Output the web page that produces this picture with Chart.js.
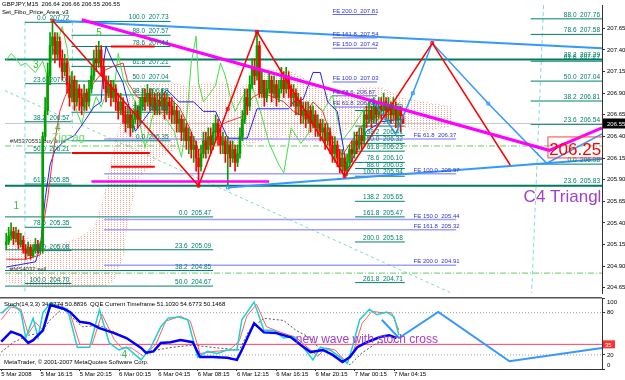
<!DOCTYPE html>
<html>
<head>
<meta charset="utf-8">
<title>GBPJPY M15</title>
<script src="https://cdn.jsdelivr.net/npm/chart.js@4.4.1/dist/chart.umd.min.js"></script>
<style>
  html, body { margin: 0; padding: 0; background: #fff; }
  #wrap { position: relative; width: 625px; height: 380px; overflow: hidden; background: #fff; }
  #mainChart { position: absolute; left: 0; top: 0; }
  #subChart { position: absolute; left: 0; top: 297px; }
</style>
</head>
<body>
<div id="wrap">
  <canvas id="mainChart" width="625" height="298"></canvas>
  <canvas id="subChart" width="625" height="83"></canvas>
</div>
<script>
// x = bar number of M15 candles, bar 0 = 5 Mar 12:15
const timeLabels = ['5 Mar 2008', '5 Mar 16:15', '5 Mar 20:15', '6 Mar 00:15', '6 Mar 04:15', '6 Mar 08:15',
  '6 Mar 12:15', '6 Mar 16:15', '6 Mar 20:15', '7 Mar 00:15', '7 Mar 04:15'];
const timeTickBars = [0, 16, 32, 48, 64, 80, 96, 112, 128, 144, 160];
const priceTicks = [207.65, 207.40, 207.15, 206.90, 206.65, 206.40, 206.15, 205.90, 205.65, 205.40, 205.15, 204.90, 204.65];
const stochTicks = [100, 80, 20, 0];
const stochLevels = [80, 20];
const qqeLevel = 35;

const chartTitle = 'GBPJPY,M15  206.64 206.66 206.55 206.55';
const indicatorName = 'Set_Fibo_Price_Area_v3';
const subTitle = 'Stoch(14,3,3) 34.6774 50.8836  QQE Current Timeframe 51.1030 54.6773 50.1468';
const copyright = 'MetaTrader, \u00a9 2001-2007 MetaQuotes Software Corp.';

// candles (open = previous close)
const firstOpen = 205.15;
const closes = [
  205.18, 205.25, 205.30, 205.22, 205.28, 205.15, 205.20, 205.10, 205.05, 205.12,
  205.02, 205.08, 205.15, 205.10, 205.12, 206.40, 206.70, 207.10, 207.45, 207.55,
  207.35, 207.50, 207.30, 207.15, 207.25, 207.00, 206.85, 207.05, 206.80, 206.95,
  206.85, 206.75, 206.90, 206.80, 206.95, 207.10, 207.30, 207.25, 207.40, 207.20,
  207.05, 206.90, 207.00, 206.85, 206.95, 206.80, 206.70, 206.80, 206.65, 206.55,
  206.65, 206.50, 206.60, 206.70, 206.60, 206.75, 206.85, 206.80, 206.90, 206.75,
  206.85, 206.70, 206.80, 206.75, 206.85, 206.70, 206.80, 206.75, 206.65, 206.70,
  206.55, 206.60, 206.45, 206.50, 206.35, 206.40, 206.25, 206.30, 206.15, 206.05,
  206.20, 206.35, 206.25, 206.40, 206.30, 206.45, 206.55, 206.40, 206.30, 206.35,
  206.20, 206.30, 206.15, 206.25, 206.10, 206.20, 206.40, 206.60, 206.85, 206.75,
  207.00, 207.20, 207.10, 207.45, 206.90, 207.05, 206.85, 206.95, 207.05, 206.90,
  207.00, 206.85, 206.95, 207.05, 206.95, 207.10, 206.95, 206.85, 206.90, 206.75,
  206.80, 206.65, 206.70, 206.60, 206.70, 206.55, 206.65, 206.50, 206.55, 206.45,
  206.50, 206.35, 206.45, 206.30, 206.20, 206.30, 206.15, 206.05, 206.15, 206.00,
  206.10, 206.25, 206.20, 206.35, 206.30, 206.40, 206.35, 206.65, 206.60, 206.70,
  206.60, 206.75, 206.65, 206.75, 206.70, 206.80, 206.70, 206.75, 206.65, 206.75,
  206.60, 206.70, 206.64, 206.55];
const highs = [
  205.28, 205.35, 205.40, 205.35, 205.35, 205.32, 205.28, 205.25, 205.15, 205.18,
  205.15, 205.15, 205.22, 205.20, 205.18, 206.45, 206.85, 207.25, 207.60, 207.74,
  207.60, 207.60, 207.55, 207.40, 207.35, 207.30, 207.10, 207.15, 207.10, 207.05,
  207.00, 206.95, 207.00, 206.95, 207.05, 207.20, 207.40, 207.45, 207.50, 207.45,
  207.30, 207.10, 207.10, 207.05, 207.05, 207.00, 206.90, 206.90, 206.85, 206.75,
  206.75, 206.70, 206.70, 206.80, 206.75, 206.85, 206.95, 206.95, 207.00, 206.95,
  206.95, 206.90, 206.90, 206.90, 206.95, 206.90, 206.90, 206.85, 206.85, 206.80,
  206.75, 206.70, 206.65, 206.60, 206.55, 206.50, 206.45, 206.40, 206.35, 206.25,
  206.30, 206.45, 206.45, 206.50, 206.50, 206.55, 206.65, 206.60, 206.50, 206.45,
  206.40, 206.40, 206.35, 206.35, 206.30, 206.30, 206.50, 206.70, 206.95, 206.95,
  207.10, 207.30, 207.30, 207.61, 207.50, 207.15, 207.05, 207.05, 207.15, 207.10,
  207.10, 207.05, 207.05, 207.20, 207.15, 207.20, 207.15, 207.00, 207.00, 206.95,
  206.90, 206.85, 206.80, 206.80, 206.80, 206.75, 206.75, 206.70, 206.65, 206.60,
  206.60, 206.55, 206.55, 206.50, 206.40, 206.40, 206.35, 206.25, 206.25, 206.20,
  206.20, 206.30, 206.35, 206.45, 206.45, 206.50, 206.50, 206.70, 206.75, 206.80,
  206.75, 206.85, 206.80, 206.85, 206.85, 206.90, 206.85, 206.85, 206.80, 206.85,
  206.80, 206.75, 206.75, 206.66];
const lows = [
  205.10, 205.15, 205.20, 205.15, 205.18, 205.10, 205.12, 205.05, 204.98, 205.02,
  204.98, 205.00, 205.05, 205.05, 205.05, 205.05, 206.35, 206.65, 207.00, 207.35,
  207.25, 207.30, 207.20, 207.05, 207.10, 206.90, 206.75, 206.80, 206.70, 206.75,
  206.70, 206.65, 206.70, 206.70, 206.75, 206.90, 207.05, 207.15, 207.20, 207.10,
  206.95, 206.80, 206.85, 206.75, 206.80, 206.70, 206.60, 206.65, 206.55, 206.45,
  206.50, 206.40, 206.45, 206.55, 206.50, 206.55, 206.70, 206.70, 206.75, 206.70,
  206.70, 206.65, 206.65, 206.65, 206.70, 206.60, 206.65, 206.60, 206.55, 206.55,
  206.45, 206.45, 206.35, 206.35, 206.25, 206.20, 206.15, 206.10, 206.00, 205.83,
  206.00, 206.15, 206.15, 206.20, 206.20, 206.25, 206.35, 206.30, 206.20, 206.20,
  206.10, 205.83, 206.05, 206.10, 206.00, 206.05, 206.15, 206.35, 206.55, 206.65,
  206.70, 206.95, 207.00, 207.05, 206.85, 206.85, 206.75, 206.80, 206.90, 206.80,
  206.85, 206.75, 206.80, 206.90, 206.85, 206.90, 206.85, 206.75, 206.75, 206.65,
  206.65, 206.55, 206.55, 206.50, 206.55, 206.45, 206.50, 206.40, 206.40, 206.35,
  206.35, 206.25, 206.30, 206.20, 206.10, 206.10, 206.05, 205.98, 205.98, 205.94,
  205.95, 206.05, 206.10, 206.15, 206.20, 206.25, 206.25, 206.30, 206.50, 206.55,
  206.50, 206.55, 206.55, 206.60, 206.60, 206.65, 206.60, 206.60, 206.55, 206.60,
  206.50, 206.50, 206.45, 206.55];
const lastPrice = 206.55;

// fibo retracement sets
const fibFarLeftLevels = ['0.0', '23.6', '38.2', '50.0', '61.8', '78.6', '88.0', '100.0'];
const fibFarLeftPrices = [207.72, 207.01, 206.57, 206.21, 205.85, 205.35, 205.08, 204.70];
const fibLeftLevels = ['100.0', '88.0', '78.6', '61.8', '50.0', '38.2', '23.6', '0.0'];
const fibLeftPrices = [207.73, 207.57, 207.44, 207.21, 207.04, 206.88, 206.68, 206.35];
const fibLowLevels = ['0.0', '23.6', '38.2', '50.0'];
const fibLowPrices = [205.47, 205.09, 204.85, 204.67];
const fibRightLevels = ['0.0', '23.6', '38.2', '50.0', '61.8', '78.6', '88.0', '100.0', '138.2', '161.8', '200.0', '261.8'];
const fibRightPrices = [206.70, 206.52, 206.41, 206.32, 206.23, 206.10, 206.03, 205.94, 205.65, 205.47, 205.18, 204.71];
const fibFarRightLevels = ['88.0', '78.6', '61.8', '50.0', '38.2', '23.6', '0.0'];
const fibFarRightPrices = [207.76, 207.58, 207.27, 207.04, 206.81, 206.54, 206.08];
const trendLevels = ['38.2', '23.6'];
const trendPrices = [207.29, 205.83];
// fibo expansion sets
const feUpperLevels = ['200.0', '161.8', '150.0', '100.0', '78.6', '61.8'];
const feUpperPrices = [207.81, 207.54, 207.42, 207.03, 206.87, 206.74];
const feLowerLevels = ['61.8', '100.0', '150.0', '161.8', '200.0'];
const feLowerPrices = [206.37, 205.97, 205.44, 205.32, 204.91];

// order lines and object lines
const buyLimitPrice = 206.29;
const sellPrice = 204.82;
const redLevelPrices = [207.44, 206.21, 206.05];
const magentaLevelPrice = 205.88;
const targetPrice = 206.25;

// zigzag, triangle and projections [bar, price]
const zigzag = [[19, 207.74], [79, 205.83], [103, 207.61], [139, 205.94], [175, 207.48], [207, 206.07]];
const zigzagMarks = [[19, 207.74], [79, 205.83], [91, 206.72], [103, 207.61], [139, 205.94], [158, 206.73], [175, 207.48]];
const triangleTop = [[19, 207.74], [244.7, 207.42]];
const triangleBottom = [[91, 205.81], [244.7, 206.14]];
const magentaTrend = [[31, 207.75], [223, 206.24], [244.7, 206.50]];
const projection = [[150, 206.84], [160, 206.43], [167, 206.90], [175, 207.48], [198, 206.78], [222, 206.09], [244.7, 206.43]];
const projectionMarks = [[91, 205.81], [167, 206.90], [198, 206.78]];

// ichimoku and oscillator drawn on price
const cloudBars = [0, 6, 12, 18, 24, 30, 36, 40, 44, 48, 50, 54, 61, 69, 75, 81, 89, 97, 105, 114, 122, 130, 138, 146, 154, 162, 171, 183];
const cloudTop = [205.32, 205.29, 205.17, 205.12, 205.17, 205.23, 205.34, 205.68, 206.24, 206.69, 206.85, 206.97, 207.02, 207.02,
  206.97, 207.02, 207.02, 206.97, 207.14, 207.19, 207.08, 206.91, 206.85, 206.97, 206.97, 206.85, 206.80, 206.74];
const cloudBottom = [204.72, 204.69, 204.67, 204.65, 204.65, 204.67, 204.67, 204.67, 204.72, 205.01, 205.45, 205.90, 206.13, 206.24,
  206.29, 206.35, 206.29, 206.29, 206.35, 206.41, 206.35, 206.35, 206.46, 206.57, 206.63, 206.52, 206.46, 206.52];
const kijun = [[0, 204.89], [6, 204.92], [12, 204.95], [14, 205.12], [16, 205.68], [18, 206.07], [20, 206.24], [24, 206.35],
  [28, 206.41], [32, 206.57], [36, 206.74], [39, 206.80], [40, 207.25], [41, 207.44], [44, 207.25], [48, 207.02], [53, 206.46],
  [59, 206.69], [66, 206.94], [71, 206.80], [77, 206.80], [81, 206.69], [86, 206.69], [91, 206.38], [99, 206.38], [103, 206.72],
  [116, 206.72], [118, 206.80], [122, 206.83], [126, 207.14], [129, 207.14], [132, 206.80], [136, 206.69], [140, 206.01],
  [144, 206.24], [148, 206.46], [154, 206.57], [162, 206.60]];
const tenkan = [[0, 204.98], [8, 204.98], [14, 205.03], [15, 205.34], [17, 205.68], [18, 205.90], [20, 206.35], [22, 206.69],
  [24, 206.85], [26, 206.97], [29, 206.93], [32, 206.85], [36, 207.02], [40, 207.16], [44, 207.21], [48, 207.25], [50, 207.02],
  [54, 206.85], [59, 206.85], [63, 206.80], [67, 206.85], [71, 206.74], [75, 206.52], [79, 206.24], [83, 206.35], [87, 206.52],
  [91, 206.57], [97, 206.63], [101, 206.85], [105, 206.91], [110, 206.85], [114, 206.80], [118, 206.69], [122, 206.63],
  [126, 206.80], [130, 206.69], [134, 206.35], [138, 206.18], [142, 206.35], [146, 206.52], [152, 206.63], [158, 206.66], [162, 206.66]];
const greenOsc = [[0, 207.28], [2, 207.36], [4, 207.30], [6, 207.22], [8, 207.25], [10, 207.19], [12, 207.14], [15, 207.27],
  [17, 207.08], [19, 207.36], [22, 207.58], [23, 207.67], [25, 207.42], [27, 206.91], [29, 206.69], [31, 206.54], [33, 206.80],
  [35, 206.69], [37, 206.86], [39, 206.74], [42, 206.97], [44, 206.86], [46, 207.36], [48, 207.08], [53, 206.80], [57, 206.27],
  [61, 206.74], [65, 206.63], [69, 206.46], [72, 206.16], [74, 206.57], [76, 207.25], [78, 207.56], [79, 207.02], [81, 206.80],
  [84, 206.91], [86, 206.99], [88, 207.25], [90, 207.10], [92, 206.86], [94, 206.69], [97, 206.86], [101, 206.99], [105, 206.63],
  [108, 206.32], [112, 206.07], [114, 205.98], [116, 206.32], [117, 206.50], [121, 206.32], [124, 206.43], [126, 206.80],
  [130, 206.69], [134, 206.88], [138, 206.35], [142, 206.50], [145, 206.63], [149, 206.80], [154, 206.69], [158, 206.72], [162, 206.80]];

// stochastic / QQE window [bar, value]
const stochMain = [[0, 79], [4, 91], [6, 88], [8, 81], [10, 44], [13, 72], [15, 45], [17, 80], [20, 94], [23, 90], [27, 85], [31, 31],
  [36, 31], [40, 84], [44, 37], [48, 27], [51, 31], [57, 13], [61, 31], [65, 60], [68, 72], [72, 74], [76, 70], [80, 17], [84, 25],
  [88, 22], [92, 27], [96, 27], [98, 70], [103, 95], [107, 55], [111, 55], [115, 44], [119, 46], [123, 31], [127, 13], [130, 31],
  [134, 27], [138, 17], [141, 8], [143, 31], [146, 70], [150, 85], [153, 77], [157, 81], [160, 74], [162, 48]];
const stochSignal = [[0, 70], [4, 88], [8, 85], [11, 50], [14, 66], [17, 55], [20, 88], [24, 92], [28, 80], [32, 35], [37, 35],
  [41, 78], [46, 42], [49, 30], [53, 30], [58, 18], [63, 35], [67, 68], [73, 75], [77, 68], [81, 22], [87, 25], [93, 27], [97, 40],
  [100, 75], [104, 92], [108, 60], [114, 52], [120, 45], [125, 30], [129, 18], [132, 30], [136, 27], [140, 12], [143, 20],
  [147, 65], [151, 82], [155, 80], [159, 80], [162, 55]];
const qqeFast = [[0, 39], [4, 53], [8, 48], [11, 37], [13, 41], [17, 55], [20, 91], [25, 86], [28, 81], [32, 67], [36, 65], [40, 58],
  [46, 51], [51, 44], [57, 30], [59, 23], [62, 25], [65, 37], [69, 38], [73, 41], [78, 38], [81, 17], [86, 17], [92, 16], [96, 13],
  [98, 27], [103, 65], [107, 52], [112, 51], [118, 45], [122, 34], [126, 24], [131, 27], [135, 20], [139, 10], [142, 17],
  [145, 31], [149, 38], [154, 45], [158, 48], [161, 44]];
const qqeSlow = [[0, 24], [5, 38], [11, 48], [16, 51], [20, 70], [25, 86], [33, 60], [40, 62], [47, 51], [54, 38], [59, 24],
  [68, 30], [78, 34], [88, 30], [97, 27], [101, 55], [107, 72], [115, 69], [120, 55], [126, 44], [130, 27], [134, 27], [142, 6],
  [147, 23], [153, 37], [160, 38]];
const stochProjection = [[155, 70], [162, 44], [178, 81], [207, 11], [244.7, 30]];

// ---- layout ----
const X_MIN = -0.5, X_MAX = 244.7;
const P_MIN = 204.59, P_MAX = 207.92;
const FONT = '"Liberation Sans", Arial, sans-serif';
Chart.defaults.font.family = FONT;

const toPts = pairs => pairs.map(p => ({ x: p[0], y: p[1] }));

function line(points, color, width, order, extra) {
  return Object.assign({
    type: 'line', data: points, borderColor: color, borderWidth: width,
    pointRadius: 0, fill: false, tension: 0, order: order
  }, extra || {});
}

function hline(x0, x1, price, color, width, order, dash) {
  return line([{ x: x0, y: price }, { x: x1, y: price }], color, width, order, dash ? { borderDash: dash } : {});
}

// sparse dot hatch like the terminal's cloud
function dotPattern(color) {
  const c = document.createElement('canvas');
  c.width = 3; c.height = 2;
  const g = c.getContext('2d');
  g.fillStyle = color;
  g.fillRect(0, 0, 1, 1);
  return g.createPattern(c, 'repeat');
}

const fibSets = [
  { levels: fibFarLeftLevels, prices: fibFarLeftPrices, from: 7.7, to: 26.8 },
  { levels: fibLeftLevels, prices: fibLeftPrices, from: 26.8, to: 67.5 },
  { levels: fibLowLevels, prices: fibLowPrices, from: X_MIN, to: 85 },
  { levels: fibRightLevels, prices: fibRightPrices, from: 143.3, to: 163.7 },
  { levels: fibFarRightLevels, prices: fibFarRightPrices, from: 215.4, to: X_MAX }
];
const FIB_COLOR = '#00806a';
const FE_COLOR = '#3333cc';

// ---- main window datasets ----
const opens = closes.map((c, i) => (i === 0 ? firstOpen : closes[i - 1]));
const candleColors = closes.map((c, i) => (c >= opens[i] ? '#00a000' : '#ff0000'));
const mainDatasets = [];

// ichimoku cloud
const cloudFill = dotPattern('rgba(245,150,130,0.85)');
mainDatasets.push(line(cloudBars.map((b, i) => ({ x: b, y: cloudTop[i] })), 'rgba(245,170,150,0.7)', 1, 60,
  { borderDash: [1, 3], fill: '+1', backgroundColor: cloudFill }));
mainDatasets.push(line(cloudBars.map((b, i) => ({ x: b, y: cloudBottom[i] })), 'rgba(245,170,150,0.7)', 1, 60,
  { borderDash: [1, 3] }));

// dashed helper lines
mainDatasets.push(line([{ x: X_MIN, y: 206.93 }, { x: 182.8, y: P_MIN }], '#7fd8c0', 1, 55, { borderDash: [3, 3] }));
mainDatasets.push(line([{ x: 7.7, y: 207.73 }, { x: 7.7, y: P_MIN }], '#80dcdc', 1, 55, { borderDash: [4, 3] }));
mainDatasets.push(line([{ x: 27.2, y: 207.73 }, { x: 27.2, y: 206.50 }], '#80dcdc', 1, 55, { borderDash: [4, 3] }));
mainDatasets.push(line([{ x: 220.7, y: P_MAX }, { x: 215.8, y: P_MIN }], '#80dcdc', 1, 55, { borderDash: [4, 3] }));

// fibo lines
fibSets.forEach(s => s.prices.forEach(p => mainDatasets.push(hline(s.from, s.to, p, FIB_COLOR, 1, 50))));
trendPrices.forEach(p => mainDatasets.push(hline(X_MIN, X_MAX, p, '#007a5e', 2, 46)));
feUpperPrices.forEach(p => mainDatasets.push(hline(134, 152.3, p, '#6666ff', 1, 48)));
feLowerPrices.forEach(p => mainDatasets.push(hline(40.2, 184.8, p, '#a0a0ff', 1.5, 48)));

// order lines and bid line
mainDatasets.push(hline(X_MIN, X_MAX, buyLimitPrice, '#66cc66', 1, 47, [6, 2, 1, 2]));
mainDatasets.push(hline(X_MIN, X_MAX, sellPrice, '#66cc66', 1, 47, [6, 2, 1, 2]));
mainDatasets.push(hline(X_MIN, X_MAX, lastPrice, '#c8c8c8', 1, 47));

// indicator lines
mainDatasets.push(line(toPts(greenOsc), '#44e044', 1, 40));
mainDatasets.push(line(toPts(tenkan), '#ff3030', 1, 35));
mainDatasets.push(line(toPts(kijun), '#2020ff', 1, 35));

// candles
mainDatasets.push({
  type: 'bar', data: closes.map((c, i) => ({ x: i, y: [lows[i], highs[i]] })),
  backgroundColor: candleColors, barThickness: 1, grouped: false, order: 31
});
mainDatasets.push({
  type: 'bar', data: closes.map((c, i) => ({ x: i, y: [opens[i], c] })),
  backgroundColor: candleColors, barThickness: 2, grouped: false, order: 30
});

// object lines
mainDatasets.push(hline(43, 61, redLevelPrices[0], '#ff0000', 2, 25));
mainDatasets.push(hline(27, 59, redLevelPrices[1], '#ff0000', 2, 25));
mainDatasets.push(hline(43, 61, redLevelPrices[2], '#ff0000', 2, 25));
mainDatasets.push(hline(35, 108, magentaLevelPrice, '#ff00ff', 2.5, 25));

// triangle, projection, zigzag
mainDatasets.push(line(toPts(triangleTop), '#3399ff', 2, 20));
mainDatasets.push(line(toPts(triangleBottom), '#3399ff', 2, 20));
mainDatasets.push(line(toPts(projection), '#3399ff', 1.5, 18));
mainDatasets.push(line(toPts(zigzag), '#ff0000', 1.5, 15));
mainDatasets.push(line(toPts(magentaTrend), '#ff00ff', 3, 10));
mainDatasets.push(line(toPts(zigzagMarks), 'rgba(0,0,0,0)', 0, 5, {
  showLine: false, pointRadius: 2, pointStyle: 'rect', pointBorderColor: '#ff0000',
  pointBackgroundColor: 'rgba(255,255,255,0)', pointBorderWidth: 1
}));
mainDatasets.push(line(toPts(projectionMarks), 'rgba(0,0,0,0)', 0, 5, {
  showLine: false, pointRadius: 2, pointStyle: 'rect', pointBorderColor: '#3399ff',
  pointBackgroundColor: 'rgba(255,255,255,0)', pointBorderWidth: 1
}));

// ---- texts on the price window ----
const mainOverlay = {
  id: 'mainOverlay',
  afterDatasetsDraw(chart) {
    const { ctx, chartArea: a, scales: { x, y } } = chart;
    const X = v => x.getPixelForValue(v);
    const Y = v => y.getPixelForValue(v);
    ctx.save();
    ctx.beginPath();
    ctx.rect(a.left, a.top, a.right - a.left, a.bottom - a.top);
    ctx.clip();

    // fibo labels sit above their line, right aligned
    ctx.textBaseline = 'bottom';
    ctx.textAlign = 'right';
    ctx.font = '6.5px ' + FONT;
    ctx.fillStyle = FIB_COLOR;
    fibSets.forEach(s => s.levels.forEach((lv, i) => {
      ctx.fillText(lv + '  ' + s.prices[i].toFixed(2), X(s.to) - 2, Y(s.prices[i]) - 0.5);
    }));
    trendLevels.forEach((lv, i) => ctx.fillText(lv + '  ' + trendPrices[i].toFixed(2), X(X_MAX) - 2, Y(trendPrices[i]) - 1));

    ctx.textAlign = 'left';
    ctx.font = '6px ' + FONT;
    ctx.fillStyle = FE_COLOR;
    feUpperLevels.forEach((lv, i) => ctx.fillText('FE ' + lv + '  ' + feUpperPrices[i].toFixed(2), X(134), Y(feUpperPrices[i]) - 0.5));
    feLowerLevels.forEach((lv, i) => ctx.fillText('FE ' + lv + '  ' + feLowerPrices[i].toFixed(2), X(167.3), Y(feLowerPrices[i]) - 0.5));

    ctx.fillStyle = '#333';
    ctx.fillText('#M5370551 buy limit', X(1.5), Y(buyLimitPrice) - 2);
    ctx.fillText('#MS4032 sell', X(1.5), Y(sellPrice) - 1);

    // wave labels
    ctx.textBaseline = 'middle';
    ctx.fillStyle = '#3cc03c';
    ctx.font = '10px ' + FONT;
    ctx.fillText('1', X(3), Y(205.59));
    ctx.fillText('3', X(11), Y(207.22));
    ctx.fillText('4', X(20), Y(206.50));
    ctx.fillText('5', X(37), Y(207.59));
    ctx.fillStyle = '#66dd66';
    ctx.font = '11px ' + FONT;
    ctx.fillText('Zigzag', X(18.7), Y(206.38));

    // target price box
    ctx.strokeStyle = '#ff4040';
    ctx.lineWidth = 1;
    ctx.strokeRect(X(222.3) + 0.5, Y(targetPrice) - 12.5, a.right - X(222.3) + 2, 21);
    ctx.fillStyle = '#ff0000';
    ctx.font = '17px ' + FONT;
    ctx.fillText(targetPrice.toFixed(2), X(223), Y(targetPrice) + 0.5);

    ctx.fillStyle = '#a040c8';
    ctx.font = '17px ' + FONT;
    ctx.fillText('C4 Triangle', X(212.5), Y(205.70));
    ctx.restore();

    // window title
    ctx.save();
    ctx.textAlign = 'left';
    ctx.textBaseline = 'middle';
    ctx.fillStyle = '#000';
    ctx.font = '6px ' + FONT;
    ctx.fillText(chartTitle, 2, 4.5);
    ctx.fillText(indicatorName, 2, 12.5);

    // last price on the axis
    const yp = Y(lastPrice);
    ctx.fillStyle = '#000';
    ctx.fillRect(a.right + 1, yp - 5, 23, 10);
    ctx.fillStyle = '#fff';
    ctx.fillText(lastPrice.toFixed(2), a.right + 5, yp + 0.5);
    ctx.restore();
  }
};

new Chart(document.getElementById('mainChart'), {
  type: 'bar',
  data: { datasets: mainDatasets },
  options: {
    responsive: false,
    animation: false,
    events: [],
    layout: { padding: { left: 0, right: 0, top: 0, bottom: 1 } },
    plugins: { legend: { display: false }, tooltip: { enabled: false } },
    scales: {
      x: { type: 'linear', min: X_MIN, max: X_MAX, offset: false, display: false },
      y: {
        position: 'right',
        min: P_MIN,
        max: P_MAX,
        afterBuildTicks: s => { s.ticks = priceTicks.map(v => ({ value: v })); },
        afterFit: s => { s.width = 23; s.paddingTop = 0; s.paddingBottom = 0; },
        ticks: { font: { size: 6 }, color: '#000', padding: 2, callback: v => v.toFixed(2) },
        grid: { drawOnChartArea: false, tickLength: 3, color: '#333' },
        border: { display: true, color: '#333' }
      }
    }
  },
  plugins: [mainOverlay]
});

// ---- stochastic / QQE window ----
const subDatasets = [];
stochLevels.forEach(v => subDatasets.push(hline(X_MIN, X_MAX, v, '#9a9a9a', 1, 50, [1, 2])));
subDatasets.push(hline(X_MIN, X_MAX, qqeLevel, '#ff4060', 1, 49));
subDatasets.push(line(toPts(qqeSlow), '#555555', 1, 40, { borderDash: [2, 2] }));
subDatasets.push(line(toPts(stochSignal), '#ff6060', 1, 30));
subDatasets.push(line(toPts(stochMain), '#20d0d0', 1.5, 25));
subDatasets.push(line(toPts(qqeFast), '#0000ff', 2.5, 20));
subDatasets.push(line(toPts(stochProjection), '#3399ff', 2, 10));

const subOverlay = {
  id: 'subOverlay',
  afterDatasetsDraw(chart) {
    const { ctx, chartArea: a, scales: { x, y } } = chart;
    const X = v => x.getPixelForValue(v);
    const Y = v => y.getPixelForValue(v);
    ctx.save();
    ctx.fillStyle = '#555';
    ctx.fillRect(0, 0, a.right, 1.5);

    ctx.textAlign = 'left';
    ctx.textBaseline = 'middle';
    ctx.font = '6px ' + FONT;
    ctx.fillStyle = '#000';
    ctx.fillText(subTitle, 4, 7.5);
    ctx.fillText(copyright, 4, 65);

    // axis labels, kept inside the window like the terminal does
    stochTicks.forEach(v => {
      const py = Math.min(Math.max(Y(v), a.top + 4), a.bottom - 3.3);
      ctx.fillText(String(v), a.right + 5, py);
    });
    const yl = Y(qqeLevel);
    ctx.fillStyle = '#ff3030';
    ctx.fillRect(a.right + 1, yl - 4, 12, 8);
    ctx.fillStyle = '#fff';
    ctx.fillText(String(qqeLevel), a.right + 3, yl + 0.5);

    ctx.beginPath();
    ctx.rect(a.left, a.top, a.right - a.left, a.bottom - a.top);
    ctx.clip();
    ctx.fillStyle = '#3cc03c';
    ctx.font = '10px ' + FONT;
    ctx.fillText('4', X(49), Y(20));
    ctx.fillStyle = '#a040c8';
    ctx.font = '12px ' + FONT;
    ctx.fillText('new wave with stoch cross', X(120), Y(41));
    ctx.restore();
  }
};

new Chart(document.getElementById('subChart'), {
  type: 'line',
  data: { datasets: subDatasets },
  options: {
    responsive: false,
    animation: false,
    events: [],
    layout: { padding: { left: 0, right: 0, top: 1.6, bottom: 0 } },
    plugins: { legend: { display: false }, tooltip: { enabled: false } },
    scales: {
      x: {
        type: 'linear', min: X_MIN, max: X_MAX, offset: false,
        afterBuildTicks: s => { s.ticks = timeTickBars.map(v => ({ value: v })); },
        afterFit: s => { s.height = 11; s.paddingLeft = 0; s.paddingRight = 0; },
        ticks: {
          autoSkip: false, maxRotation: 0, minRotation: 0, align: 'start', padding: 0,
          font: { size: 6 }, color: '#000', callback: (v, i) => timeLabels[i]
        },
        grid: { drawOnChartArea: false, tickLength: 2, color: '#333' },
        border: { display: true, color: '#333' }
      },
      y: {
        position: 'right', min: 0, max: 100,
        afterBuildTicks: s => { s.ticks = stochTicks.map(v => ({ value: v })); },
        afterFit: s => { s.width = 23; s.paddingTop = 0; s.paddingBottom = 0; },
        ticks: { display: false },
        grid: { drawOnChartArea: false, tickLength: 3, color: '#333' },
        border: { display: true, color: '#333' }
      }
    }
  },
  plugins: [subOverlay]
});
</script>
</body>
</html>
